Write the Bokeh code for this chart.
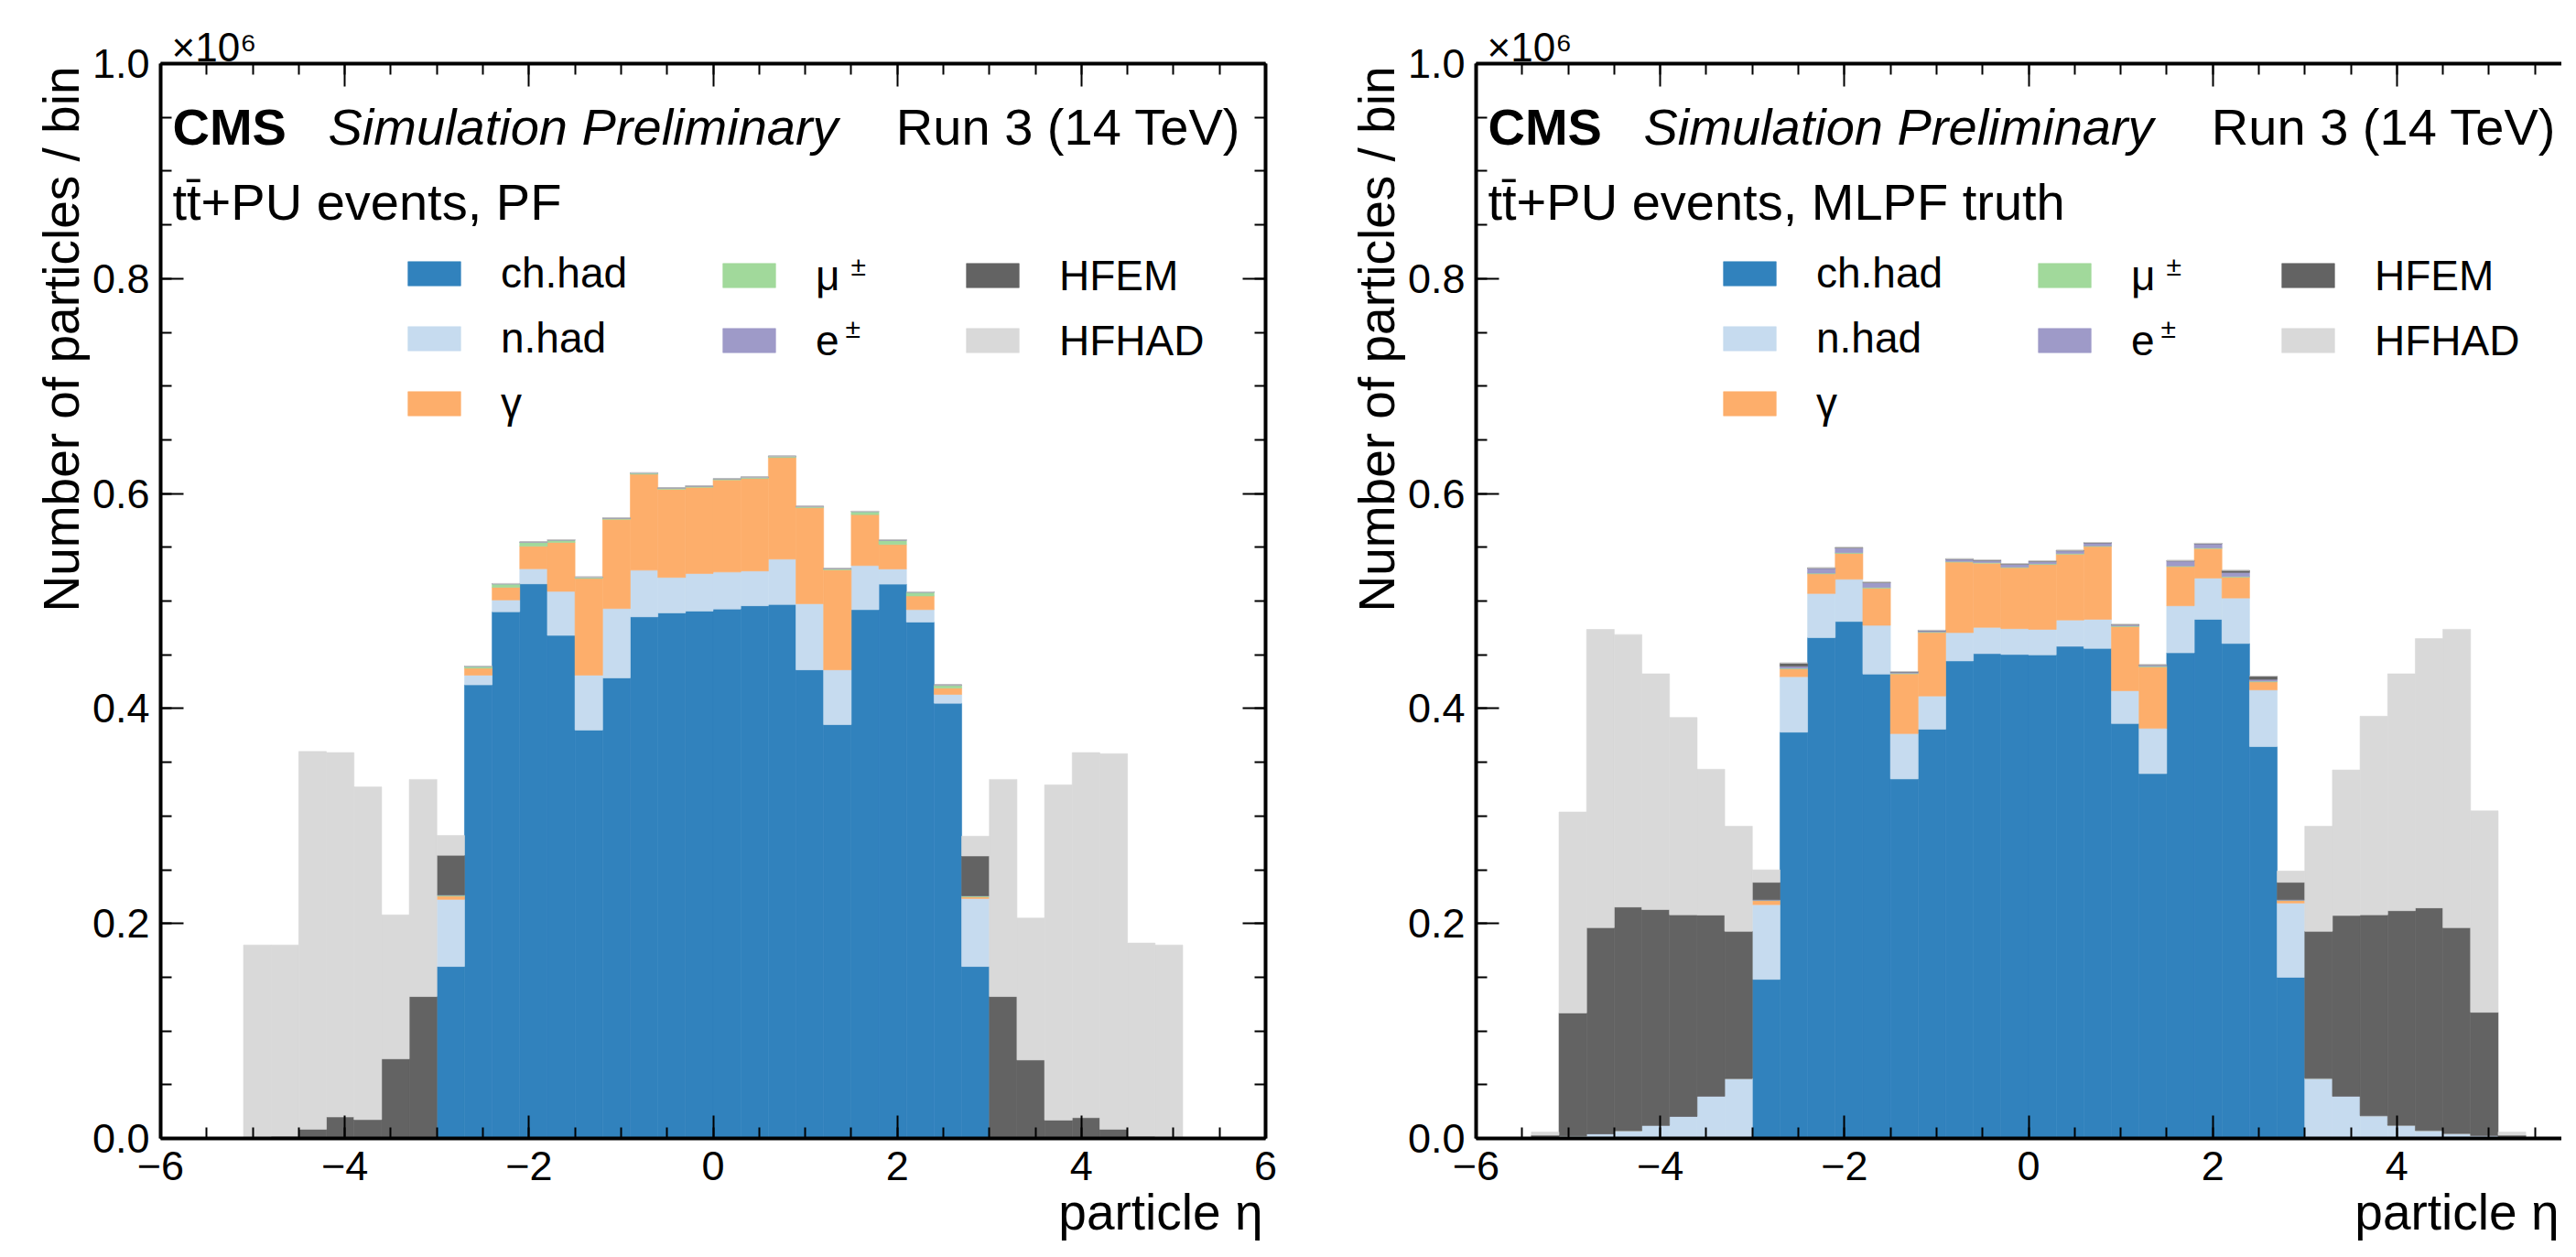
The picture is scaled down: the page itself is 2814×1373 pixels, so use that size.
import math
from bokeh.plotting import figure
from bokeh.models import (ColumnDataSource, Range1d, LinearAxis, SingleIntervalTicker,
                          PrintfTickFormatter, Label, Legend, LegendItem, Title)
from bokeh.layouts import row
from bokeh.embed import file_html
from bokeh.resources import INLINE

# ---------------- data (particles per bin, in units of 10^6) ----------------
ETA_MIN, ETA_MAX, BIN_W, N_BINS = -6.0, 6.0, 0.3, 40
eta_centers = [ETA_MIN + BIN_W * (i + 0.5) for i in range(N_BINS)]

species = ["ch_had", "n_had", "gamma", "mu", "e", "hfem", "hfhad"]
legend_labels = ["ch.had", "n.had", "γ", "μ", "e", "HFEM", "HFHAD"]
colors = ["#3182bd", "#c6dbef", "#fdae6b", "#a1d99b", "#9e9ac8", "#636363", "#d9d9d9"]

# PF
ch_had_pf = [0] * 10 + [0.160, 0.422, 0.490, 0.516, 0.468, 0.380, 0.4285, 0.4853, 0.489, 0.4907,
                        0.4926, 0.4956, 0.4968, 0.436, 0.385, 0.492, 0.5157, 0.4804, 0.4049, 0.160] + [0] * 10
n_had_pf = [0] * 10 + [0.0624, 0.009, 0.011, 0.014, 0.041, 0.051, 0.0645, 0.0434, 0.033, 0.0349,
                       0.0344, 0.0324, 0.0422, 0.0615, 0.051, 0.041, 0.0141, 0.0116, 0.0082, 0.0632] + [0] * 10
gamma_pf = [0] * 10 + [0.003, 0.0065, 0.0117, 0.021, 0.0455, 0.090, 0.083, 0.0893, 0.082, 0.0802,
                       0.0857, 0.086, 0.0945, 0.0893, 0.093, 0.0474, 0.0228, 0.0127, 0.0059, 0.0015] + [0] * 10
mu_pf = [0] * 10 + [0.0008, 0.0015, 0.003, 0.0035, 0.002, 0.0008, 0.0008, 0.0008, 0.0008, 0.0008,
                    0.0008, 0.0008, 0.0008, 0.0008, 0.0008, 0.0026, 0.0038, 0.0033, 0.0025, 0.0008] + [0] * 10
e_pf = [0] * 10 + [0.0003, 0.0005, 0.0005, 0.0005, 0.0005, 0.0005, 0.0005, 0.0005, 0.0005, 0.0005,
                   0.0005, 0.0005, 0.0005, 0.0005, 0.0005, 0.0005, 0.0005, 0.0005, 0.0005, 0.0003] + [0] * 10
hfem_pf = [0, 0, 0, 0.001, 0.002, 0.0085, 0.020, 0.0175, 0.074, 0.132,
           0.037] + [0] * 18 + [0.037,
           0.132, 0.073, 0.017, 0.0193, 0.0085, 0.002, 0.001, 0, 0, 0]
hfhad_pf = [0, 0, 0, 0.179, 0.178, 0.3515, 0.339, 0.3095, 0.134, 0.202,
            0.0184] + [0] * 18 + [0.0184,
            0.202, 0.132, 0.312, 0.3397, 0.3495, 0.1798, 0.179, 0, 0, 0]

# MLPF truth
ch_had_ml = [0] * 10 + [0.148, 0.378, 0.466, 0.481, 0.432, 0.3345, 0.3807, 0.4443, 0.4511, 0.4503,
                        0.4499, 0.4579, 0.456, 0.386, 0.3394, 0.4518, 0.483, 0.4605, 0.3646, 0.1499] + [0] * 10
n_had_ml = [0, 0, 0.001, 0.0024, 0.0043, 0.0073, 0.0122, 0.0205, 0.0393, 0.0558,
            0.0695, 0.0516, 0.041, 0.0393, 0.0454, 0.0421, 0.0309, 0.0263, 0.0244, 0.024,
            0.0237, 0.0244, 0.027, 0.0305, 0.0421, 0.0438, 0.0384, 0.0423, 0.0527, 0.0691,
            0.056, 0.0393, 0.0212, 0.0123, 0.0075, 0.0047, 0.0027, 0.001, 0, 0]
gamma_ml = [0] * 10 + [0.0038, 0.0072, 0.0183, 0.024, 0.0346, 0.0556, 0.0591, 0.0656, 0.0597, 0.0567,
                       0.0604, 0.0613, 0.0677, 0.0597, 0.0572, 0.0364, 0.0274, 0.0194, 0.0075, 0.0023] + [0] * 10
mu_ml = [0] * 10 + [0.0003, 0.0006, 0.0006, 0.0006, 0.0006, 0.0006, 0.0006, 0.0006, 0.0006, 0.0006,
                    0.0006, 0.0006, 0.0006, 0.0006, 0.0006, 0.0006, 0.0006, 0.0006, 0.0006, 0.0003] + [0] * 10
e_ml = [0] * 10 + [0.0005, 0.0019, 0.0045, 0.0045, 0.0045, 0.001, 0.001, 0.002, 0.0019, 0.0026,
                   0.0022, 0.0025, 0.0027, 0.001, 0.001, 0.0046, 0.0038, 0.0038, 0.0017, 0.0005] + [0] * 10
hfem_ml = [0, 0, 0.002, 0.1144, 0.1918, 0.208, 0.2008, 0.1876, 0.1685, 0.1369,
           0.0162, 0.003, 0.0005, 0.0005, 0.0005, 0.0005, 0.0005, 0.0005, 0.0005, 0.0005,
           0.0005, 0.0005, 0.0005, 0.0005, 0.0005, 0.0005, 0.0005, 0.0019, 0.003, 0.0162,
           0.1367, 0.1681, 0.1869, 0.1996, 0.207, 0.1914, 0.1147, 0.002, 0, 0]
hfhad_ml = [0, 0, 0.003, 0.1869, 0.2775, 0.2535, 0.2193, 0.1836, 0.1357, 0.0978,
            0.0116] + [0] * 18 + [0.0105,
            0.0978, 0.1354, 0.1847, 0.2204, 0.2505, 0.2776, 0.1874, 0.003, 0, 0]

# ---------------- layout constants (page pixels) ----------------
FONT = "Liberation Sans"
FRAME_TOP, FRAME_BOTTOM = 77, 1252
FRAME_H = FRAME_BOTTOM - FRAME_TOP
FRAME_W = 1207
PXU = FRAME_W / (ETA_MAX - ETA_MIN)
CANVAS_H = 1357


def X(rel):
    return ETA_MIN + rel / PXU


def Y(py):
    return (FRAME_BOTTOM - py) / FRAME_H


def style_axis(ax, show_labels):
    ax.axis_line_width = 4
    ax.axis_line_color = "black"
    ax.major_tick_in = 25
    ax.major_tick_out = 0
    ax.minor_tick_in = 12
    ax.minor_tick_out = 0
    ax.major_tick_line_width = 2
    ax.minor_tick_line_width = 2
    ax.major_tick_line_color = "black"
    ax.minor_tick_line_color = "black"
    if show_labels:
        ax.major_label_text_font = FONT
        ax.major_label_text_font_size = "45px"
        ax.major_label_text_color = "black"
    else:
        ax.major_label_text_font_size = "1px"
        ax.major_label_text_color = None
        ax.major_label_standoff = 0


def side_title(text, size, align, valign, offset, standoff):
    return Title(text=text, align=align, vertical_align=valign, offset=offset, standoff=standoff,
                 text_font=FONT, text_font_size=size, text_font_style="normal", text_color="black")


def txt(p, x, y, text, size, style="normal", align="left"):
    p.add_layout(Label(x=x, y=y, text=text, text_font=FONT, text_font_size=size,
                       text_font_style=style, text_align=align, text_baseline="alphabetic",
                       text_color="black"))


def make_panel(values, subtitle, canvas_left, frame_left, width, show_right_axis):
    border_left = frame_left - canvas_left
    frame_w = min(FRAME_W, width - border_left)
    border_right = width - border_left - frame_w
    x_end = ETA_MIN + frame_w / PXU
    p = figure(width=width, height=CANVAS_H, x_range=Range1d(ETA_MIN, x_end), y_range=Range1d(0, 1.0),
               output_backend="svg", toolbar_location=None, x_axis_type=None, y_axis_type=None,
               min_border_left=border_left, min_border_right=border_right,
               min_border_top=FRAME_TOP - 8, min_border_bottom=CANVAS_H - (FRAME_BOTTOM - 8))
    p.outline_line_color = None
    p.background_fill_color = "white"
    p.border_fill_color = "white"

    src = ColumnDataSource(dict(x=eta_centers, **{s: v for s, v in zip(species, values)}))
    rends = p.vbar_stack(species, x="x", width=BIN_W, color=colors, line_width=0.6, source=src)

    xt = lambda: SingleIntervalTicker(interval=2, num_minor_ticks=4)
    yt = lambda: SingleIntervalTicker(interval=0.2, num_minor_ticks=4)

    bx = LinearAxis(ticker=xt())
    style_axis(bx, True)
    bx.major_label_standoff = 14
    p.add_layout(bx, "below")

    ly = LinearAxis(ticker=yt(), formatter=PrintfTickFormatter(format="%.1f"))
    style_axis(ly, True)
    ly.major_label_standoff = 12
    p.add_layout(ly, "left")

    tx = LinearAxis(ticker=xt())
    style_axis(tx, False)
    p.add_layout(tx, "above")

    if show_right_axis:
        ry = LinearAxis(ticker=yt())
        style_axis(ry, False)
        p.add_layout(ry, "right")

    # axis titles and the offset multiplier, placed in the side panels
    p.add_layout(side_title("Number of particles / bin", "55px", "right", "bottom", 3, 0), "left")
    p.add_layout(side_title("particle η", "55px", "right", "top", 3, 2), "below")
    p.add_layout(side_title("×10⁶", "44px", "left", "bottom", 12, -12), "above")

    # legend: three columns
    cols = [(263, [0, 1, 2]), (607, [3, 4]), (873, [5, 6])]
    for cx, idx in cols:
        items = [LegendItem(label=legend_labels[i], renderers=[rends[i]]) for i in idx]
        n = len(idx)
        h = n * 51.4 + (n - 1) * 17
        leg = Legend(items=items, location=(cx, FRAME_BOTTOM - (288 + h)),
                     orientation="vertical", glyph_width=72, glyph_height=33, label_standoff=37,
                     spacing=17, padding=0, margin=0, border_line_color=None,
                     background_fill_alpha=0, label_text_font=FONT, label_text_font_size="46px",
                     label_text_color="black")
        p.add_layout(leg)
    txt(p, X(754), Y(298), "±", "30px")
    txt(p, X(748), Y(366), "±", "30px")

    # header texts
    txt(p, X(13), Y(146), "CMS", "56px", style="bold")
    txt(p, X(183), Y(146), "Simulation Preliminary", "56px", style="italic")
    txt(p, X(1180), Y(146), "Run 3 (14 TeV)", "56px", align="right")
    txt(p, X(13), Y(228), subtitle, "56px")
    return p


pf_values = [ch_had_pf, n_had_pf, gamma_pf, mu_pf, e_pf, hfem_pf, hfhad_pf]
ml_values = [ch_had_ml, n_had_ml, gamma_ml, mu_ml, e_ml, hfem_ml, hfhad_ml]

left = make_panel(pf_values, "tt\u0304+PU events, PF", 8, 183, 1432, True)
right = make_panel(ml_values, "tt\u0304+PU events, MLPF truth", 1440, 1620, 1366, False)

layout = row(left, right, spacing=0)
open("out.html", "w").write(file_html(layout, INLINE, title="particle eta"))
